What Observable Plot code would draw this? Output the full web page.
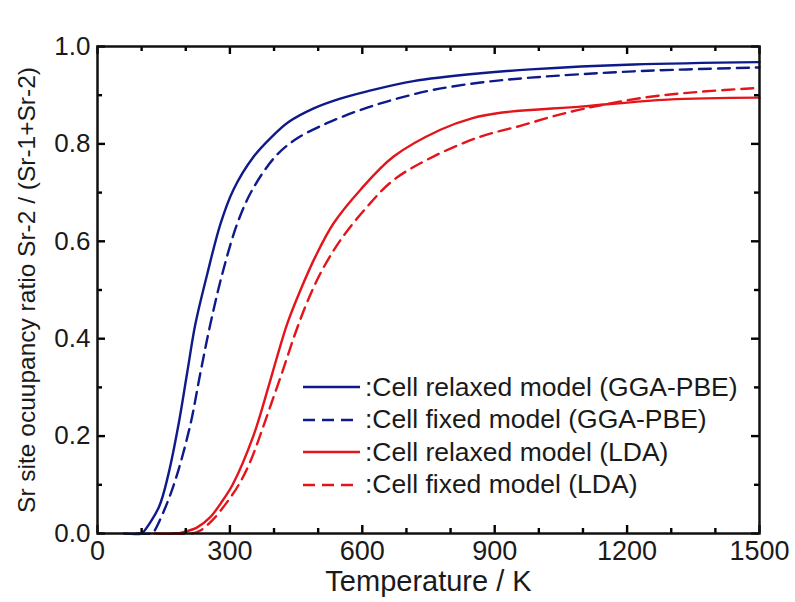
<!DOCTYPE html>
<html><head><meta charset="utf-8">
<script src="https://cdn.jsdelivr.net/npm/d3@7"></script>
<script src="https://cdn.jsdelivr.net/npm/@observablehq/plot@0.6"></script>
<style>
body{margin:0;background:#fff;}
#wrap{position:relative;width:795px;height:602px;font-family:"Liberation Sans",Arial,sans-serif;color:#1a1a1a;}
#legend{position:absolute;left:302px;top:371px;font-size:26.5px;}
.row{display:flex;align-items:center;height:32.5px;white-space:nowrap;}
.row svg{margin-right:3px;}
</style></head><body><div id="wrap"></div>
<script>
// ---- data ----
const ggaRelaxedT = [60, 100, 104, 139, 161, 184, 203, 222, 249, 279, 308, 354, 392, 433, 490, 550, 611, 716, 868, 981, 1215, 1500];
const ggaRelaxedV = [0, 0, 0.003, 0.054, 0.123, 0.226, 0.329, 0.431, 0.534, 0.637, 0.706, 0.774, 0.812, 0.845, 0.873, 0.893, 0.908, 0.929, 0.945, 0.953, 0.963, 0.968];

const ggaFixedT = [90, 122, 127, 154, 181, 211, 233, 256, 283, 317, 351, 403, 450, 521, 600, 671, 761, 868, 981, 1215, 1500];
const ggaFixedV = [0, 0, 0.003, 0.054, 0.123, 0.226, 0.329, 0.431, 0.534, 0.637, 0.706, 0.774, 0.810, 0.843, 0.871, 0.891, 0.911, 0.926, 0.936, 0.949, 0.957];

const ldaRelaxedT = [130, 180, 195, 225, 255, 280, 306, 353, 387, 407, 430, 460, 494, 535, 596, 671, 777, 850, 913, 1101, 1292, 1500];
const ldaRelaxedV = [0, 0, 0.003, 0.012, 0.033, 0.063, 0.1, 0.2, 0.3, 0.363, 0.431, 0.5, 0.569, 0.637, 0.706, 0.774, 0.829, 0.853, 0.864, 0.877, 0.891, 0.895];

const ldaFixedT = [170, 215, 233, 260, 294, 320, 345, 370, 395, 420, 445, 471, 505, 551, 611, 671, 761, 868, 958, 1030, 1101, 1238, 1366, 1500];
const ldaFixedV = [0, 0, 0.006, 0.027, 0.065, 0.1, 0.145, 0.205, 0.27, 0.335, 0.403, 0.466, 0.534, 0.603, 0.671, 0.726, 0.774, 0.815, 0.837, 0.856, 0.872, 0.895, 0.907, 0.915];

const seriesNames = [":Cell relaxed model (GGA-PBE)", ":Cell fixed model (GGA-PBE)", ":Cell relaxed model (LDA)", ":Cell fixed model (LDA)"];
const seriesColors = ["#0f1a8a", "#0f1a8a", "#e3151b", "#e3151b"];
const seriesDash = [null, "12,7", null, "12,7"];

const xMajor = [0, 300, 600, 900, 1200, 1500];
const xMinor = [100, 200, 400, 500, 700, 800, 1000, 1100, 1300, 1400];
const yMajor = [0, 0.2, 0.4, 0.6, 0.8, 1.0];
const yMinor = [0.1, 0.3, 0.5, 0.7, 0.9];

const xLabel = "Temperature / K";
const yLabel = "Sr site ocuupancy ratio Sr-2 / (Sr-1+Sr-2)";

// ---- build ----
const sets = [[ggaRelaxedT, ggaRelaxedV], [ggaFixedT, ggaFixedV], [ldaRelaxedT, ldaRelaxedV], [ldaFixedT, ldaFixedV]];
const rows = sets.map(([T, V]) => T.map((t, i) => ({T: t, v: V[i]})));

const W = 795, H = 602, mL = 97, mR = 36, mT = 46, mB = 69;
const innerW = W - mL - mR, innerH = H - mT - mB;

const font = '"Liberation Sans", Arial, sans-serif';
const tickStyle = {stroke: "#000", strokeWidth: 2.4};
const textColor = "#1a1a1a";

const chart = Plot.plot({
  width: W, height: H,
  marginLeft: mL, marginRight: mR, marginTop: mT, marginBottom: mB,
  style: {fontFamily: font, color: textColor, background: "transparent"},
  x: {domain: [0, 1500], axis: null},
  y: {domain: [0, 1.0], axis: null},
  marks: [
    ...rows.map((r, i) => Plot.line(r, {x: "T", y: "v", stroke: seriesColors[i], strokeWidth: 2.4, strokeDasharray: seriesDash[i], curve: "catmull-rom"})),
    // inward tick marks on all four sides
    Plot.tickX(xMajor, {x: d => d, insetTop: innerH - 8, ...tickStyle}),
    Plot.tickX(xMinor, {x: d => d, insetTop: innerH - 5, ...tickStyle}),
    Plot.tickX(xMajor, {x: d => d, insetBottom: innerH - 8, ...tickStyle}),
    Plot.tickX(xMinor, {x: d => d, insetBottom: innerH - 5, ...tickStyle}),
    Plot.tickY(yMajor, {y: d => d, insetRight: innerW - 8, ...tickStyle}),
    Plot.tickY(yMinor, {y: d => d, insetRight: innerW - 5, ...tickStyle}),
    Plot.tickY(yMajor, {y: d => d, insetLeft: innerW - 8, ...tickStyle}),
    Plot.tickY(yMinor, {y: d => d, insetLeft: innerW - 5, ...tickStyle}),
    // tick labels
    Plot.text(xMajor, {x: d => d, frameAnchor: "bottom", dy: 7, lineAnchor: "top", textAnchor: "middle", text: d => String(d), fontSize: 27, fill: textColor}),
    Plot.text(yMajor, {y: d => d, frameAnchor: "left", dx: -7, textAnchor: "end", lineAnchor: "middle", text: d3.format(".1f"), fontSize: 26, fill: textColor}),
    // axis titles
    Plot.text([xLabel], {frameAnchor: "bottom", dy: 37, lineAnchor: "top", textAnchor: "middle", text: d => d, fontSize: 29, fill: textColor}),
    Plot.text([yLabel], {frameAnchor: "left", dx: -70, rotate: -90, textAnchor: "middle", lineAnchor: "middle", text: d => d, fontSize: 24.5, fill: textColor}),
    Plot.frame({stroke: "#111", strokeWidth: 2.5})
  ]
});

const wrap = document.getElementById("wrap");
wrap.appendChild(chart);

const legend = document.createElement("div");
legend.id = "legend";
seriesNames.forEach((name, i) => {
  const row = document.createElement("div");
  row.className = "row";
  row.innerHTML = `<svg width="60" height="10"><line x1="1" y1="5" x2="58" y2="5" stroke="${seriesColors[i]}" stroke-width="2.4" ${seriesDash[i] ? `stroke-dasharray="${seriesDash[i]}"` : ""}/></svg><span>${name}</span>`;
  legend.appendChild(row);
});
wrap.appendChild(legend);
</script>
</body></html>
